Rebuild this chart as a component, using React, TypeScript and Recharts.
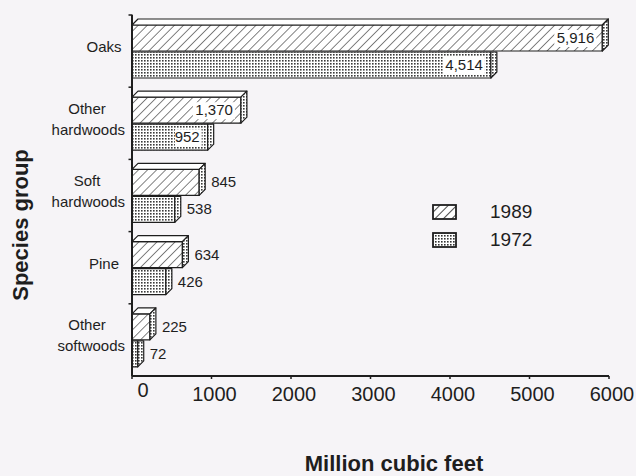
import { BarChart, Bar, XAxis, YAxis, LabelList, Label } from "recharts";

// ─── Data ──────────────────────────────────────────────────────

const categories = ["Oaks", "Other hardwoods", "Soft hardwoods", "Pine", "Other softwoods"];
const v1989 = [5916, 1370, 845, 634, 225];
const v1972 = [4514, 952, 538, 426, 72];
const years = ["1989", "1972"];
const xTicks = [0, 1000, 2000, 3000, 4000, 5000, 6000];

const data = categories.map((name, i) => ({ name, y1989: v1989[i], y1972: v1972[i] }));

const FONT = "'Liberation Sans', Arial, Helvetica, sans-serif";
const INK = "#1e1e1e";
const BG = "#f6f4f7";
const DEPTH = 6;
const AXIS_X = 132.5;
const PLOT_TOP = 15;
const PLOT_BOTTOM = 376;
const BAND = (PLOT_BOTTOM - PLOT_TOP) / categories.length;

// ─── 3D bar shapes ─────────────────────────────────────────────

function Bar3D(props: any) {
  const { x, y, width, height, fill, showTop } = props;
  if (width == null || height == null) return null;
  const d = DEPTH;
  const r = x + width;
  return (
    <g stroke={INK} strokeWidth={1.2} strokeLinejoin="round">
      <rect x={x} y={y} width={width} height={height} fill={fill} />
      {showTop ? (
        <>
          <polygon points={`${x},${y} ${x + d},${y - d} ${r + d},${y - d} ${r},${y}`} fill="#fff" />
          <polygon points={`${r},${y} ${r + d},${y - d} ${r + d},${y + height - d} ${r},${y + height}`} fill="url(#stipple)" />
        </>
      ) : (
        <polygon points={`${r},${y} ${r + d},${y} ${r + d},${y + height - d} ${r},${y + height}`} fill="url(#stipple)" />
      )}
    </g>
  );
}

// labels sit inside the long bars, outside the short ones
function ValueLabel(props: any) {
  const { x, y, width, height, value } = props;
  const text = Number(value).toLocaleString("en-US");
  const cy = y + height / 2 + 5;
  if (width > 72) {
    const tw = text.length * 7.6;
    const tx = x + width - 8;
    return (
      <g>
        <rect x={tx - tw - 2} y={cy - 13} width={tw + 4} height={17} fill="#fff" />
        <text x={tx} y={cy} textAnchor="end" fontFamily={FONT} fontSize={15} fill={INK}>
          {text}
        </text>
      </g>
    );
  }
  return (
    <text x={x + width + 12} y={cy} textAnchor="start" fontFamily={FONT} fontSize={15} fill={INK}>
      {text}
    </text>
  );
}

// ─── Axis ticks ────────────────────────────────────────────────

function CategoryTick(props: any) {
  const { y, payload } = props;
  const words = String(payload.value).split(" ");
  const edge = y - BAND / 2;
  const cy = y - 4;
  return (
    <g>
      <line x1={AXIS_X - 4} y1={edge} x2={AXIS_X} y2={edge} stroke={INK} strokeWidth={1.5} />
      {words.length === 1 ? (
        <text x={104} y={cy + 5} textAnchor="middle" fontFamily={FONT} fontSize={15} fill={INK}>
          {words[0]}
        </text>
      ) : (
        <>
          <text x={87} y={cy - 5.5} textAnchor="middle" fontFamily={FONT} fontSize={15} fill={INK}>
            {words[0]}
          </text>
          <text x={125} y={cy + 15.5} textAnchor="end" fontFamily={FONT} fontSize={15} fill={INK}>
            {words[1]}
          </text>
        </>
      )}
    </g>
  );
}

function ValueTick(props: any) {
  const { x, payload } = props;
  const zero = payload.value === 0;
  return (
    <text
      x={zero ? x + 11 : x + 3}
      y={zero ? 397 : 401}
      textAnchor="middle"
      fontFamily={FONT}
      fontSize={20}
      fill={INK}
    >
      {payload.value}
    </text>
  );
}

// ─── Legend swatch ─────────────────────────────────────────────

function Swatch({ fill }: { fill: string }) {
  return (
    <svg width={25} height={16} style={{ display: "block" }}>
      <defs>
        <pattern id="lg-hatch" width="6" height="6" patternUnits="userSpaceOnUse" patternTransform="rotate(45)">
          <rect width="6" height="6" fill="#fff" />
          <line x1="0" y1="0" x2="0" y2="6" stroke={INK} strokeWidth={1.6} />
        </pattern>
        <pattern id="lg-stipple" width="3" height="3" patternUnits="userSpaceOnUse">
          <rect width="3" height="3" fill="#fff" />
          <rect width="1.6" height="1.6" fill="#333" />
        </pattern>
      </defs>
      <rect x={1} y={1} width={23} height={14} fill={fill} stroke={INK} strokeWidth={1.8} />
    </svg>
  );
}

export default function App() {
  return (
    <div style={{ position: "absolute", left: 0, top: 0, width: 636, height: 476, background: BG }}>
      <BarChart
        width={636}
        height={476}
        data={data}
        layout="vertical"
        margin={{ top: PLOT_TOP, right: 27, bottom: 70, left: 0 }}
        barSize={26}
        barGap={1}
      >
        <defs>
          <pattern id="hatch" width="6.4" height="6.4" patternUnits="userSpaceOnUse" patternTransform="rotate(45)">
            <rect width="6.4" height="6.4" fill="#fff" />
            <line x1="0" y1="0" x2="0" y2="6.4" stroke={INK} strokeWidth={1.1} />
          </pattern>
          <pattern id="stipple" width="3" height="3" patternUnits="userSpaceOnUse">
            <rect width="3" height="3" fill="#fff" />
            <rect width="1.6" height="1.6" fill="#3a3a3a" />
          </pattern>
        </defs>
        <XAxis
          type="number"
          domain={[0, 6000]}
          ticks={xTicks}
          height={30}
          axisLine={{ stroke: INK, strokeWidth: 2 }}
          tickLine={{ stroke: INK, strokeWidth: 1.5 }}
          tickSize={3}
          tick={<ValueTick />}
          interval={0}
        >
          <Label
            content={() => (
              <text x={394} y={471} textAnchor="middle" fontFamily={FONT} fontSize={22} fontWeight="bold" fill={INK}>
                Million cubic feet
              </text>
            )}
          />
        </XAxis>
        <YAxis
          type="category"
          dataKey="name"
          width={132}
          axisLine={{ stroke: INK, strokeWidth: 2 }}
          tickLine={false}
          tick={<CategoryTick />}
          interval={0}
        >
          <Label
            content={() => (
              <text
                x={28}
                y={225}
                transform="rotate(-90 28 225)"
                textAnchor="middle"
                fontFamily={FONT}
                fontSize={22}
                fontWeight="bold"
                fill={INK}
              >
                Species group
              </text>
            )}
          />
        </YAxis>
        <Bar dataKey="y1989" fill="url(#hatch)" isAnimationActive={false} shape={(p: any) => <Bar3D {...p} showTop />}>
          <LabelList dataKey="y1989" content={<ValueLabel />} />
        </Bar>
        <Bar dataKey="y1972" fill="url(#stipple)" isAnimationActive={false} shape={(p: any) => <Bar3D {...p} />}>
          <LabelList dataKey="y1972" content={<ValueLabel />} />
        </Bar>
      </BarChart>
      <div style={{ position: "absolute", left: 432, top: 198, fontFamily: FONT, fontSize: 19, color: INK }}>
        {years.map((yr, i) => (
          <div key={yr} style={{ display: "flex", alignItems: "center", height: 28 }}>
            <Swatch fill={i === 0 ? "url(#lg-hatch)" : "url(#lg-stipple)"} />
            <span style={{ marginLeft: 33 }}>{yr}</span>
          </div>
        ))}
      </div>
    </div>
  );
}
